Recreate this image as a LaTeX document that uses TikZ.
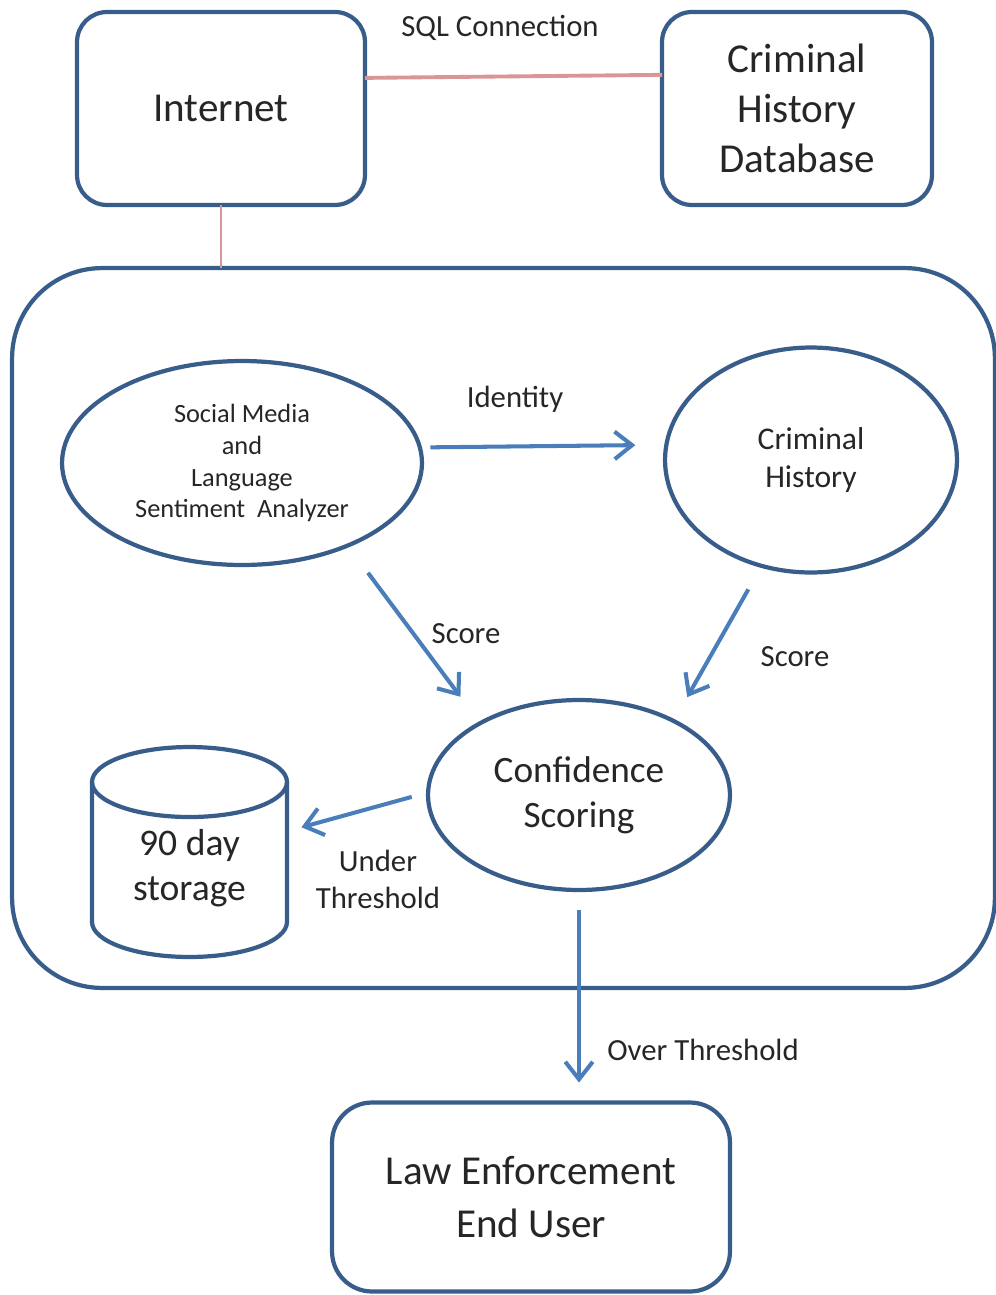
\documentclass[tikz,border=0pt]{standalone}
\usepackage{fontspec}
\setmainfont{Carlito}
\usetikzlibrary{shapes.geometric,arrows.meta}
\definecolor{boxblue}{HTML}{385D8A}
\definecolor{arrowblue}{HTML}{4A7EBB}
\definecolor{linkpink}{HTML}{D99694}
\definecolor{inkgray}{HTML}{262626}

\begin{document}
\begin{tikzpicture}[x=0.02cm, y=-0.02cm,
    outline/.style={draw=boxblue, line width=2.4pt},
    box/.style={outline, rectangle, rounded corners=0.6cm, align=center, text=inkgray, outer sep=0pt, font=\fontsize{23.4}{28.4}\selectfont},
    oval/.style={outline, ellipse, inner sep=0pt, outer sep=0pt, align=center, text=inkgray},
    flow/.style={draw=arrowblue, line width=2.3pt, -{Straight Barb[length=0.35cm, width=0.55cm]}},
    link/.style={draw=linkpink, line width=2.2pt},
    tag/.style={text=inkgray, align=center, font=\fontsize{17.5}{21}\selectfont}]
    \useasboundingbox (0,0) rectangle (996,1295);
    \node[box, minimum width=19.66cm, minimum height=14.4cm, rounded corners=1.8cm] (engine) at (503.5,628) {};
    \node[box, minimum width=5.76cm, minimum height=3.86cm] (inet) at (221,108.5) {Internet};
    \node[box, minimum width=5.4cm, minimum height=3.86cm] (crimdb) at (797,108.5) {Criminal\\History\\Database};
    \node[oval, minimum width=7.2cm, minimum height=4.08cm, font=\fontsize{15}{18.2}\selectfont] (sma) at (242,463) {Social Media\\and\\Language\\Sentiment~ Analyzer};
    \node[oval, minimum width=5.84cm, minimum height=4.5cm, font=\fontsize{18}{21.5}\selectfont] (crim) at (811,460) {Criminal\\History};
    \node[oval, minimum width=6.04cm, minimum height=3.8cm, font=\fontsize{21.2}{25.5}\selectfont] (conf) at (579,795) {Confidence\\Scoring};
    \node[minimum width=3.9cm, minimum height=2.8cm, inner sep=0pt, outer sep=0pt] (store) at (189.5,852) {};
    \node[tag, font=\fontsize{21.4}{25.5}\selectfont] (storetext) at ([yshift=-0.32cm]store.center) {90 day\\storage};
    \node[box, minimum width=7.96cm, minimum height=3.78cm, rounded corners=0.8cm, font=\fontsize{23.4}{30}\selectfont] (le) at (531,1197) {Law Enforcement\\End User};

    \draw[outline] (store.north west) -- (store.south west) arc[start angle=180, end angle=360, x radius=1.95cm, y radius=0.7cm] -- (store.north east);
    \draw[outline] (store.north) ellipse[x radius=1.95cm, y radius=0.7cm];

    \draw[link] (inet.12.3) -- (crimdb.166.9);
    \draw[link, line width=1.4pt] (inet.south) -- (inet.south |- engine.north);

    \draw[flow, shorten <=0.21cm, shorten >=0.62cm] (sma.5.5) -- (crim.174.5);
    \draw[flow, shorten <=0.68cm, shorten >=0.66cm] (sma.-38) -- (conf.144);
    \draw[flow, shorten <=0.54cm, shorten >=0.55cm] (crim.-115) -- (conf.38);
    \draw[flow, shorten <=0.34cm, shorten >=0.3cm] (conf.179) -- (store.12);
    \draw[flow, shorten <=0.4cm, shorten >=0.4cm] (conf.south) -- (conf.south |- le.north);

    \node[tag] (sqllbl) at (500,28) {SQL Connection};
    \node[tag] (idlbl) at (515,399) {Identity};
    \node[tag] (scorea) at (466,634) {Score};
    \node[tag] (scoreb) at (795,657) {Score};
    \node[tag] (underlbl) at (378,879) {Under\\Threshold};
    \node[tag] (overlbl) at (703,1050) {Over Threshold};
\end{tikzpicture}
\end{document}
